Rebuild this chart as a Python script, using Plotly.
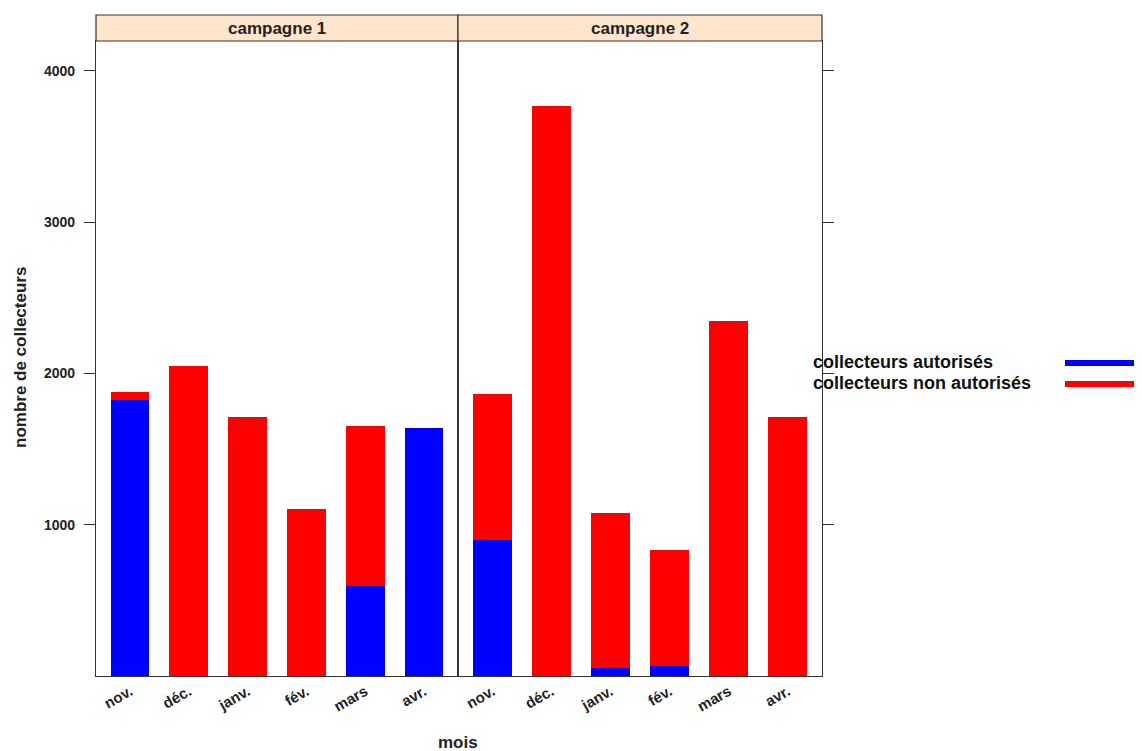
import plotly.graph_objects as go

months = ["nov.", "déc.", "janv.", "fév.", "mars", "avr."]
campaigns = ["campagne 1", "campagne 2"]
autorises_c1 = [1826, 0, 0, 0, 595, 1641]
non_autorises_c1 = [51, 2052, 1715, 1105, 1060, 0]
autorises_c2 = [901, 0, 53, 68, 0, 0]
non_autorises_c2 = [964, 3769, 1026, 765, 2350, 1713]
series_names = ["collecteurs autorisés", "collecteurs non autorisés"]
series_colors = ["#0000FF", "#FF0000"]
y_ticks = [1000, 2000, 3000, 4000]

OFF = 8  # default page body margin
W, H = 1142 - OFF, 751 - OFF
FONT = "Liberation Sans, Arial, sans-serif"

def px_x(v):
    return (v - OFF) / W

def px_y(v):
    return (H - (v - OFF)) / H

fig = go.Figure()
data = [(autorises_c1, non_autorises_c1), (autorises_c2, non_autorises_c2)]
for i, (a, n) in enumerate(data):
    xa = "x" if i == 0 else "x2"
    ya = "y" if i == 0 else "y2"
    fig.add_trace(go.Bar(x=months, y=a, marker=dict(color=series_colors[0], line=dict(width=0)),
                         xaxis=xa, yaxis=ya, showlegend=False, name=series_names[0]))
    fig.add_trace(go.Bar(x=months, y=n, marker=dict(color=series_colors[1], line=dict(width=0)),
                         xaxis=xa, yaxis=ya, showlegend=False, name=series_names[1]))

ydom = [px_y(676), px_y(41)]
xdom1 = [px_x(96), px_x(458)]
xdom2 = [px_x(458), px_x(822)]

common_x = dict(showline=True, mirror=True, linecolor="#333", linewidth=1.2,
                ticks="", tickangle=-30, showgrid=False, zeroline=False,
                range=[-0.58, 5.58], categoryorder="array", categoryarray=months,
                tickvals=months, ticktext=["<b>%s</b>" % m for m in months],
                tickfont=dict(family=FONT, size=15, color="#222"))
common_y = dict(showline=True, mirror=True, linecolor="#333", linewidth=1.2,
                ticks="outside", ticklen=11, tickcolor="#333", showgrid=False, zeroline=False,
                range=[0, 4198], tickvals=y_ticks, ticktext=["<b>%d</b>" % t for t in y_ticks],
                ticklabelstandoff=6,
                domain=ydom, tickfont=dict(family=FONT, size=14, color="#222"))

fig.update_layout(
    width=W, height=H,
    margin=dict(l=0, r=0, t=0, b=0),
    paper_bgcolor="white", plot_bgcolor="white",
    barmode="stack", bargap=0.34,
    xaxis=dict(domain=xdom1, anchor="y", **common_x),
    xaxis2=dict(domain=xdom2, anchor="y2", **common_x),
    yaxis=dict(anchor="x", side="left", **common_y),
    yaxis2=dict(anchor="x2", side="right", showticklabels=False, matches="y", **common_y),
)

shapes = []
annotations = []
for i, dom in enumerate([xdom1, xdom2]):
    shapes.append(dict(type="rect", xref="paper", yref="paper", x0=dom[0], x1=dom[1],
                       y0=px_y(41), y1=px_y(15), fillcolor="#FFE5CC",
                       line=dict(color="#333", width=1.2), layer="above"))
    annotations.append(dict(text="<b>%s</b>" % campaigns[i], xref="paper", yref="paper",
                            x=(dom[0] + dom[1]) / 2, y=px_y(28), showarrow=False,
                            font=dict(family=FONT, size=17, color="#222"),
                            xanchor="center", yanchor="middle"))
annotations.append(dict(text="<b>nombre de collecteurs</b>", xref="paper", yref="paper",
                        x=px_x(20), y=px_y(358), textangle=-90, showarrow=False,
                        font=dict(family=FONT, size=17, color="#222"),
                        xanchor="center", yanchor="middle"))
annotations.append(dict(text="<b>mois</b>", xref="paper", yref="paper",
                        x=px_x(458), y=px_y(742), showarrow=False,
                        font=dict(family=FONT, size=17, color="#222"),
                        xanchor="center", yanchor="middle"))
for k, (name, col) in enumerate(zip(series_names, series_colors)):
    yy = 362 + k * 21
    annotations.append(dict(text="<b>%s</b>" % name, xref="paper", yref="paper",
                            x=px_x(811), y=px_y(yy), showarrow=False,
                            font=dict(family=FONT, size=18, color="#111"),
                            xanchor="left", yanchor="middle"))
    shapes.append(dict(type="line", xref="paper", yref="paper", x0=px_x(1065), x1=1.0,
                       y0=px_y(yy + 1), y1=px_y(yy + 1), line=dict(color=col, width=6)))

fig.update_layout(shapes=shapes, annotations=annotations)
fig.write_html("out.html")
